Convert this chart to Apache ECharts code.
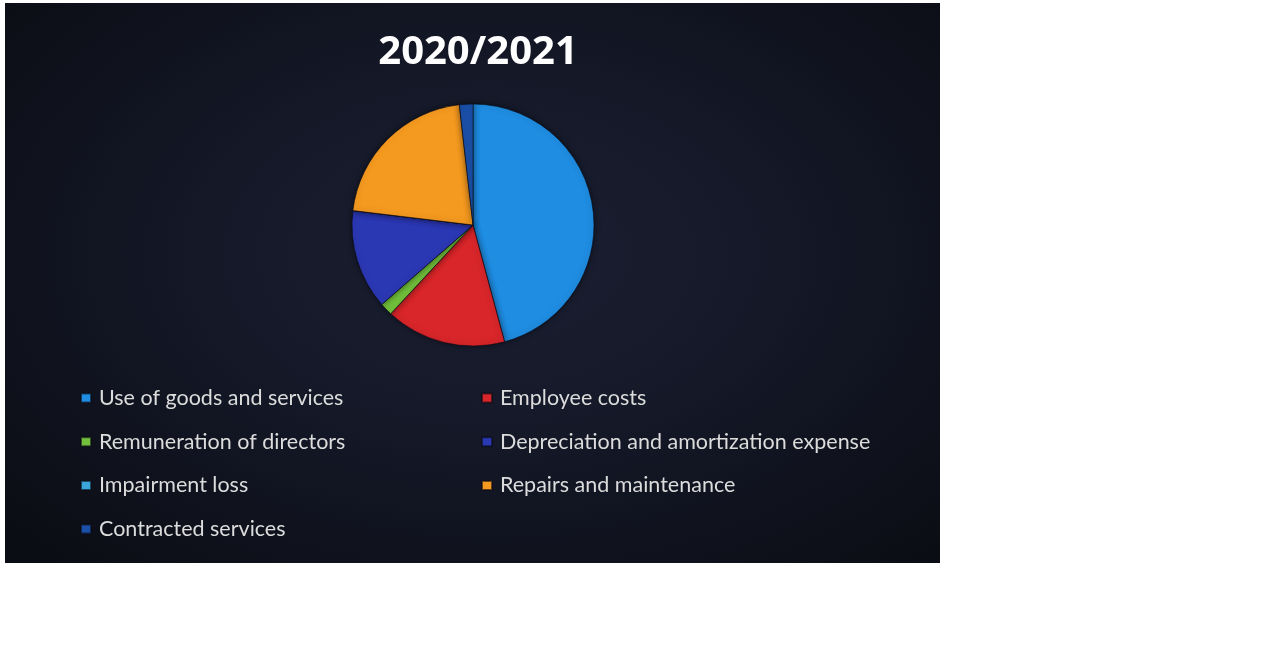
<!DOCTYPE html>
<html>
<head>
<meta charset="utf-8">
<title>2020/2021</title>
<script src="https://cdn.jsdelivr.net/npm/echarts@6/dist/echarts.min.js"></script>
<style>
  html, body { margin: 0; padding: 0; background: #ffffff; }
  #panel {
    position: absolute; left: 5px; top: 3px; width: 935px; height: 560px;
    background: radial-gradient(ellipse 70% 75% at 52% 45%, #1b2033 0%, #141827 45%, #0b0d14 100%);
  }
</style>
</head>
<body>
<div id="panel"></div>
<script>
// Expense shares for the year, in percent
const titleText = '2020/2021';
const categories = [
  'Use of goods and services',
  'Employee costs',
  'Remuneration of directors',
  'Depreciation and amortization expense',
  'Impairment loss',
  'Repairs and maintenance',
  'Contracted services'
];
const values = [45.8, 16.1, 1.7, 13.3, 0, 21.3, 1.8];
const colors = ['#1f8de2', '#d8262a', '#72c03c', '#2b38b4', '#3aa6dc', '#f59a20', '#1a50a8'];

// Legend columns
const leftColumn = [categories[0], categories[2], categories[4], categories[6]];
const rightColumn = [categories[1], categories[3], categories[5]];

const pieData = categories.map((name, i) => ({ name: name, value: values[i] }));

const legendBase = {
  orient: 'vertical',
  icon: 'rect',
  itemWidth: 10,
  itemHeight: 9,
  itemGap: 21.7,
  selectedMode: false,
  textStyle: {
    color: '#dcdcdc',
    fontFamily: 'Lato, "Noto Sans", sans-serif',
    fontSize: 21.5,
    padding: [0, 0, 0, 3]
  }
};

const chart = echarts.init(document.getElementById('panel'), null, { renderer: 'canvas' });
chart.setOption({
  backgroundColor: 'transparent',
  color: colors,
  title: {
    text: titleText,
    left: 468,
    top: 25,
    textAlign: 'center',
    textStyle: {
      color: '#ffffff',
      fontFamily: '"Open Sans", "Noto Sans", sans-serif',
      fontWeight: 'bold',
      fontSize: 40
    }
  },
  legend: [
    Object.assign({}, legendBase, { left: 70, top: 379, data: leftColumn }),
    Object.assign({}, legendBase, { left: 471, top: 379, data: rightColumn })
  ],
  series: [{
    type: 'pie',
    center: [468, 222],
    radius: 121,
    startAngle: 90,
    clockwise: true,
    label: { show: false },
    labelLine: { show: false },
    emphasis: { disabled: true },
    animation: false,
    itemStyle: {
      borderColor: 'rgba(10,10,20,0.6)',
      borderWidth: 1,
      shadowBlur: 6,
      shadowColor: 'rgba(0,0,0,0.5)'
    },
    data: pieData
  }]
});
</script>
</body>
</html>
